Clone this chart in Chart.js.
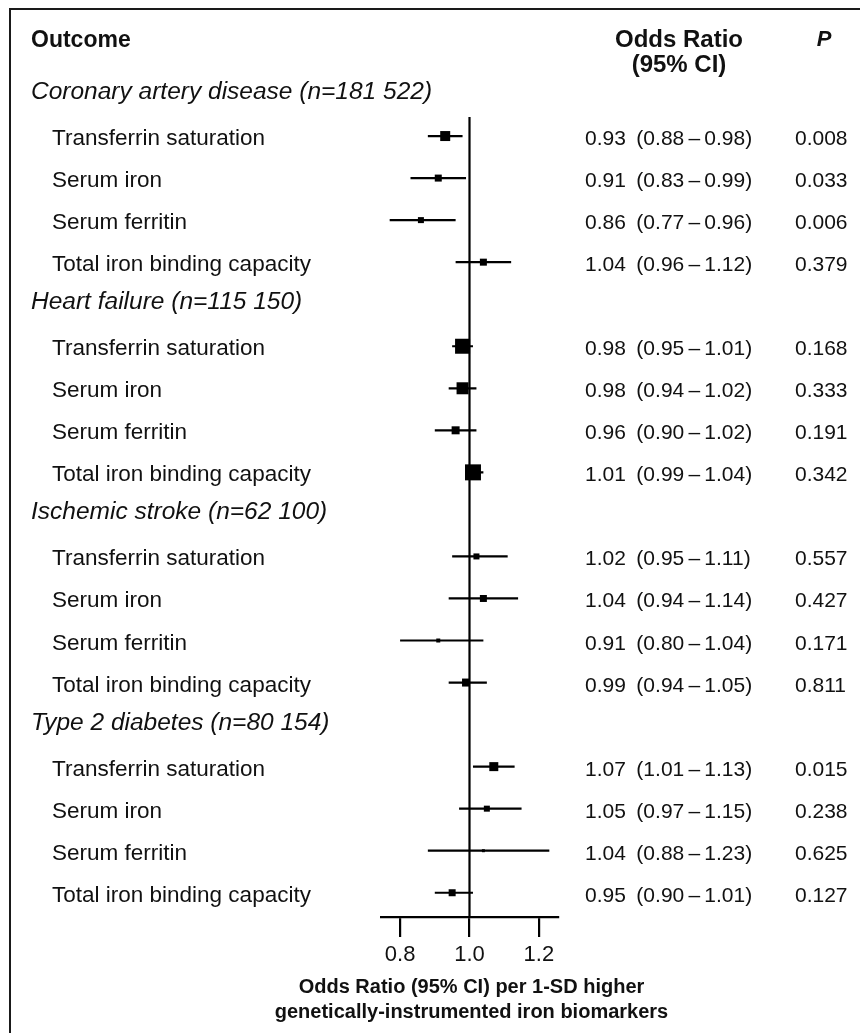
<!DOCTYPE html>
<html>
<head>
<meta charset="utf-8">
<script src="https://cdn.jsdelivr.net/npm/chart.js@4.4.1/dist/chart.umd.min.js"></script>
<style>
  html, body { margin: 0; padding: 0; background: #fff; }
  #wrap { position: relative; width: 860px; height: 1033px; }
</style>
</head>
<body>
<div id="wrap"><canvas id="forest"></canvas></div>
<script>
// ── DATA ──
const outcomes    = ['Coronary artery disease', 'Heart failure', 'Ischemic stroke', 'Type 2 diabetes'];
const sampleSizes = ['181 522', '115 150', '62 100', '80 154'];
const biomarkers  = ['Transferrin saturation', 'Serum iron', 'Serum ferritin', 'Total iron binding capacity'];

// one entry per outcome x biomarker, in outcome order
const orEst   = [0.93, 0.91, 0.86, 1.04,  0.98, 0.98, 0.96, 1.01,  1.02, 1.04, 0.91, 0.99,  1.07, 1.05, 1.04, 0.95];
const ciLow   = [0.88, 0.83, 0.77, 0.96,  0.95, 0.94, 0.90, 0.99,  0.95, 0.94, 0.80, 0.94,  1.01, 0.97, 0.88, 0.90];
const ciHigh  = [0.98, 0.99, 0.96, 1.12,  1.01, 1.02, 1.02, 1.04,  1.11, 1.14, 1.04, 1.05,  1.13, 1.15, 1.23, 1.01];
const pValues = ['0.008', '0.033', '0.006', '0.379',  '0.168', '0.333', '0.191', '0.342',
                 '0.557', '0.427', '0.171', '0.811',  '0.015', '0.238', '0.625', '0.127'];
// relative study weight (drives the box size)
const weights = [10, 7, 6, 7,  15, 12, 8, 16,  6, 7, 4, 8,  9, 6, 3, 7];

const xTicks    = [0.8, 1.0, 1.2];
const axisTitle = ['Odds Ratio (95% CI) per 1-SD higher', 'genetically-instrumented iron biomarkers'];

// ── LAYOUT ──
const FONT  = "'Liberation Sans', Arial, sans-serif";
const INK   = '#111';
const X_MIN = 0.745, X_MAX = 1.255;
const Y_MIN = 0.547, Y_MAX = 19.577;   // row 0 = first outcome header

const rowOf = k => Math.floor(k / 4) * 5 + 1 + (k % 4);

const boxPoints = orEst.map((v, k) => ({ x: v, y: rowOf(k) }));
const ciSegments = [];
orEst.forEach((_, k) => {
  ciSegments.push({ x: ciLow[k], y: rowOf(k) }, { x: ciHigh[k], y: rowOf(k) }, { x: null, y: null });
});

Chart.defaults.font.family = FONT;
Chart.defaults.color = INK;

// ── TEXT COLUMNS + FRAME ──
const forestText = {
  id: 'forestText',
  afterDraw(chart) {
    const { ctx, scales: { x, y } } = chart;
    ctx.save();

    // frame (top + left rule)
    ctx.strokeStyle = '#1a1a1a';
    ctx.lineWidth = 2;
    ctx.beginPath();
    ctx.moveTo(860, 9);
    ctx.lineTo(10, 9);
    ctx.lineTo(10, 1033);
    ctx.stroke();

    ctx.fillStyle = INK;
    ctx.textBaseline = 'alphabetic';

    // column headers
    ctx.font = 'bold 23px ' + FONT;
    ctx.textAlign = 'left';
    ctx.fillText('Outcome', 31, 47);
    ctx.font = 'bold 24px ' + FONT;
    ctx.textAlign = 'center';
    ctx.fillText('Odds Ratio', 679, 47);
    ctx.fillText('(95% CI)', 679, 72);
    ctx.font = 'italic bold 22px ' + FONT;
    ctx.fillText('P', 824, 46);

    ctx.textAlign = 'left';
    outcomes.forEach((name, g) => {
      const gy = y.getPixelForValue(g * 5);
      ctx.font = 'italic 24.5px ' + FONT;
      ctx.fillText(`${name} (n=${sampleSizes[g]})`, 31, gy + 5);

      biomarkers.forEach((bm, j) => {
        const k  = g * 4 + j;
        const ry = y.getPixelForValue(rowOf(k));
        ctx.font = '22.5px ' + FONT;
        ctx.fillText(bm, 52, ry + 9);
        ctx.font = '21px ' + FONT;
        const ci = `${orEst[k].toFixed(2)}\u2002(${ciLow[k].toFixed(2)}\u2009\u2013\u2009${ciHigh[k].toFixed(2)})`;
        ctx.fillText(ci, 585, ry + 9);
        ctx.fillText(pValues[k], 795, ry + 9);
      });
    });

    // axis title, centred under the x axis
    ctx.font = 'bold 20px ' + FONT;
    ctx.textAlign = 'center';
    const cx = (x.left + x.right) / 2 + 2;
    axisTitle.forEach((line, i) => ctx.fillText(line, cx, 993 + i * 25));

    ctx.restore();
  },
};

// ── CHART ──
new Chart(document.getElementById('forest'), {
  type: 'scatter',
  data: {
    datasets: [
      {
        label: 'OR',
        data: boxPoints,
        pointStyle: 'rect',
        pointRadius: weights.map(w => w / Math.SQRT2),
        backgroundColor: '#000',
        borderWidth: 0,
      },
      {
        label: '95% CI',
        data: ciSegments,
        showLine: true,
        spanGaps: false,
        borderColor: '#000',
        borderWidth: 2.2,
        pointRadius: 0,
      },
      {
        label: 'null',
        data: [{ x: 1, y: Y_MIN }, { x: 1, y: Y_MAX }],
        showLine: true,
        borderColor: '#000',
        borderWidth: 2.2,
        pointRadius: 0,
      },
    ],
  },
  options: {
    responsive: true,
    maintainAspectRatio: false,
    animation: false,
    layout: { padding: { left: 381, right: 302, top: 117, bottom: 0 } },
    plugins: {
      legend: { display: false },
      tooltip: { enabled: false },
    },
    scales: {
      x: {
        type: 'linear',
        min: X_MIN,
        max: X_MAX,
        afterBuildTicks: s => { s.ticks = xTicks.map(v => ({ value: v })); },
        afterFit: s => { s.height = 116; },
        ticks: {
          color: INK,
          padding: 5,
          font: { size: 22 },
          callback: v => v.toFixed(1),
        },
        grid: {
          drawOnChartArea: false,
          drawTicks: true,
          tickLength: 20,
          color: '#000',
          lineWidth: 2.2,
        },
        border: { display: true, color: '#000', width: 2.2 },
        title: { display: false },
      },
      y: {
        type: 'linear',
        display: false,
        reverse: true,
        min: Y_MIN,
        max: Y_MAX,
      },
    },
  },
  plugins: [forestText],
});
</script>
</body>
</html>
